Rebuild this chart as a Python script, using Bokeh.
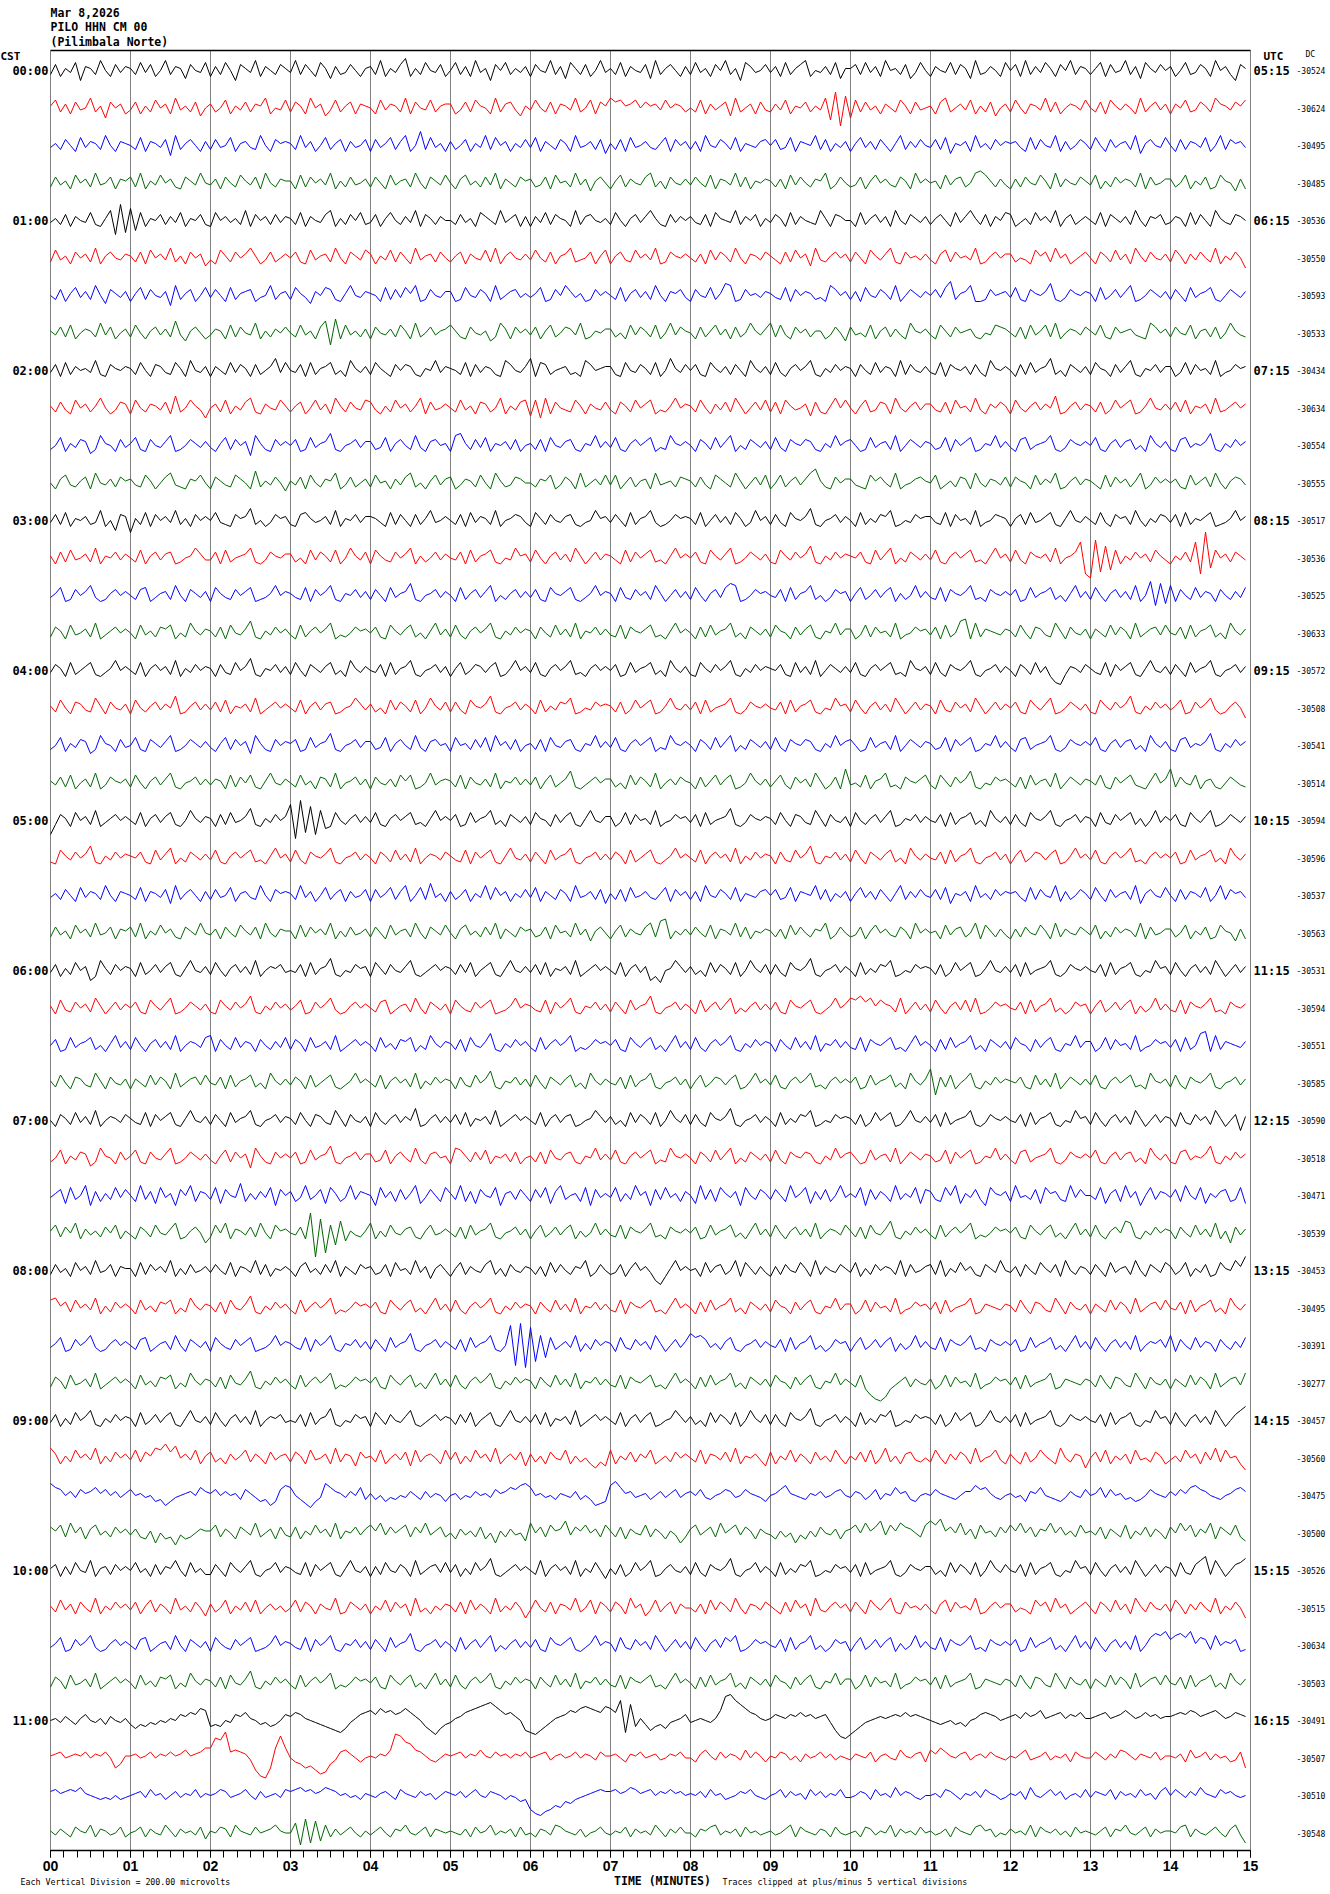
from bokeh.plotting import figure
from bokeh.models import Range1d, FixedTicker, Label, LinearAxis
from bokeh.embed import file_html
from bokeh.resources import INLINE

HEADER_LINES = ["Mar 8,2026", "PILO HHN CM 00", "(Pilimbala Norte)"]
CST_LABELS = ["00:00", "01:00", "02:00", "03:00", "04:00", "05:00",
              "06:00", "07:00", "08:00", "09:00", "10:00", "11:00"]
UTC_LABELS = ["05:15", "06:15", "07:15", "08:15", "09:15", "10:15",
              "11:15", "12:15", "13:15", "14:15", "15:15", "16:15"]
DC_OFFSETS = [-30524, -30624, -30495, -30485, -30536, -30550, -30593, -30533,
              -30434, -30634, -30554, -30555, -30517, -30536, -30525, -30633,
              -30572, -30508, -30541, -30514, -30594, -30596, -30537, -30563,
              -30531, -30594, -30551, -30585, -30590, -30518, -30471, -30539,
              -30453, -30495, -30391, -30277, -30457, -30560, -30475, -30500,
              -30526, -30515, -30634, -30503, -30491, -30507, -30510, -30548]
MINUTES = list(range(16))
MINUTE_LABELS = ["00", "01", "02", "03", "04", "05", "06", "07",
                 "08", "09", "10", "11", "12", "13", "14", "15"]
N_ROWS = 48
ROW_COLORS = ["#000000", "#ff0000", "#0000ff", "#006600"]
AXIS_TITLE = "TIME (MINUTES)"
FOOT_LEFT = "Each Vertical Division =  200.00 microvolts"
FOOT_RIGHT = "Traces clipped at plus/minus 5 vertical divisions"

# One string per trace, one space-separated group per minute.
# Each letter is a pen level: 'm' = trace centre line,
# every letter step = 2 px (up for later letters, down for earlier ones).
TRACES = [
    "kpjnlqhonkrmjplo nkqlpjmrkonipmlq jokqmhpnlrjomkpn lrkpmjqnioklpmjn okrjnlpsjnkqmlpj mqkojrlnhpmqknlo jpmlrkoiqnkpjmrl nkqjomlpirknpmjo kqlnjpmrknhqolmp lojqknprjmlokqin npkqlojrmnkpilqm jomlqkpnirklomjq mpjrkolqnjpmrkon knqjplmrkoiqnlpm ojmqklpnjrmokhpn",
    "nqkojplmrknhpmoj lpjnkqmojrlnkpim okmqjnlpkonrjmlq kpnjrmoilqknpjon mjqlonkrjpmlqkno ojlpkqnmjrkoplin lqmkpjonlrkmqjpn rpqnoqmpnolqmonk mkqjolnpirkmojpl kolqjnmpknlrguds hqkplnjomkqnjplm njprkmolqjnkpimo kqmjonlrkpjmonlq mkpjqnlomjrknplo jomqklpnkronlpnq",
    "lnkpmjqlonkrmjon mkqjonlphrknpmjo kplmqjnolkrmjpno nkrlojmqknpjolmp jplnqkorjmtkqlnj okmpjnlrkqmojnlp lqjomkpnjrlmokpi nkpjqlmolknqjpmo kojrmlpnkqjnmlop mpklqjonmrkpjnlo jnqlokpmjnrkolpm lpkqinmojrlnkpmo noljqkpmlrjokmpn kqmjplnokrinpmlq mjpkonlqjmrkpnol",
    "kplnjqmokrlmpjon pkrjnlqmokjpnlrm lojpmkqnlpjrmkon njqkpmolrjnkplmo kpmjqlnokrmjpnlq mjoqlnkplrjomkpn oklpjqmnkrloinpm jnqkomlprknjpmlo lpmkqjonlrkpjnmo nkojqlpmkonrjlpm klpjnqmolkpnjrmo mnjqlopkmrsqnkol jokpmlqnjrkomlpn lqjnkpmonkrjplmo okmqjnlpjkqnmioj",
    "lnkpjomlqkjnrfug shqjnmpkolqjnmpk jqmolnkrjpmokplo nkqjomlprjnkpmqk lpjnqmkolrjpnkom mkplnjqomkrlnpjo jolqkpnmjrkopmln kqmjnplornkjplom olkpjqnmlrkompjn lpnjqkomlkrnjpom mjqknplojrmkpnlo knpmjqlornkpjomq pjlnkqmolrjnpkmo mkqjpnlokrmjonpk lonjqkpmjrnlkpom",
    "kqlnjpmokrjnpmlo nkpjqmolrknjpmoi ljqnkpmornjlpkmo mpkjqlnokrmjpnlq ojnlqkpmjrlnokpm knpjomlqkrjnpmlo lqmkpjnorklmpjnq jnplkqmolrjkpnmo mkojqlpnkrmjonlp nljpkqmoirlknpmo kpmjqnlorkjpmnlo ljoqkpmnlrjknpmo okmljqnpkrmojlnp mjpnkqlojrnkpmlo kqnjolpmkrjnlpmh",
    "mkpjnqlokrmipnlo jnqkpmlohrknpjmq lpmjqknopjlmrkno kqnliomqpkjnrmlo nmjqkplqnrjkpmlo ojkqmlpnjrkmopln lnqjkpmrolnjkpmo mkqjnplokrmjonpl jpmlqknsrjkpmnlo nlkqjpmonkljrpmo kojqmlpnkrjmpnlo mplqtknorjjkpmno lqkjpnmoskjlpnmo njqkmplorjkmpnlo kpmjqlnoqkjmpnlo",
    "nlpkqjmonkrlpjmo kqmjnplokslinpmj lonjqkpmlrjnkomp mkqlnjpsgtjqlnko jpmlokqnjrkmplno qnkjpmlnikrojpmo lpjnqkmpolrjknmo okmjqlpnkqjmrlpn mjpknqlojpkmrnlo rkqljpmoknnjlpmi plmkqjnpkoljrnmo ljqnkpmnokjmlqpo mkpjqlnqkrjmonlp nlqkjpmnolkjrpmo kpmlqjnokpjmrnlk",
    "lpjqkomnlrkjpnmo nkqmjpolkqnjrmlo jomkqlpnjpkmoslq mlpjqknoqkmjrnlo kqnljpmpokjnmrlo nmkqjplonkjrpmlo sjqpkmnokljrpmno okjqmlpnkqjmsnlp mpkjqnlokpmjrnlo kqljnpmorkjnlpmo njpmkqlonjrkpmlo lkqjpnmokpljrnmo mjpkqlnoskmjpnlo kqnmjplorkjnmplo ojlqkpmnkrjlmpno",
    "nkpljqmoknrmjlpo jqmkonlpjskmqnlh mokqjnlprkjomlqn knpjmqlojrnkpmlq pljnkqmoknrjplmo mkqlnjpokmrjnlpq iqhrjpmlkqnjomlp ljpnkqmoqjlknrmo nkqmjolpkrnjmplq kpjqnlmoipkjnrmq mjnqklpojrmknplo olkpjqmnkrljompn jqmknplomsjknplo nkpjlqmoqjknrmlo lpkqjnmojrklnpmo",
    "kmqjnlpoikrnmjpl nqkjpmlorjkmpnlo ljnqkpmohrnkjpmo mpjkqlnoskjmnplo oklqjnpmkrljopmn jrsnkplqjnmokpjm nkpjqmlopkjnmrlo lqkjnpmoqjlkrnmo mjpnkqlorjmkpnlo kqljpnmpokjnlrmo pmjkqlnokrjmpnlo nklqjpmoqjknmrlo ljpqkmnorkjlpnmo mqkjnplopkmjrnlo kjpqlnmoskjnlpmo",
    "mjoqlknpjrmlokpn olkqnjmprlkjonqm jpnlkqomjsknlpmi nlpjqmkonrjlpkmo kqmnjolprkmjnqlo pjlonkqmjrnklpom mkonqjlpnjrkmolq lqjmpknojrlmnkpo nkpljqomkrnjmplq jmqknplortnkjpmo olkjqnpmkrjlmopn mqjlnkpojrmkonlp kpnmjqlomrjknplo nljqkpmoknrjlpmo mokjqlnpkrmjnpol",
    "lpkqjnmoklrjmhpo gnkqjpmolrknjpmo mqlkjpnoskmjlpno kjpqnlmokrjnmplo onljqkpmjpknrlmo mkpjqlonkrjmnpol jqnkpmlopkjlmrno lpmjqknorljkmpno nkqjmplokqnjlrmo kpljqnmoskjmnplo mjqknlporjkmlpno olkqjpmnkrjlmpon jnpkqlmoqkjnrmlo mkqljpnokrmjnlpo lpjqknmoqjklnrmo",
    "njpkqlmokrjnmplo mkqjnplopjkmnrol lpjqkmnorkjlpnmo okmjqlpnkqjmrnlp jqnlkpmorjnkmplo mlpjqknoqkjmlrno kqmjnplokrnjmplo nljqkpmoqkljnrmo mpkjqnlorjkmpnlo kjqnlpmoskjnlpmo nmpkjqlorjmkpnlo lqkjnpmoqkljnrmo kqljpnmokrjmnpue cvfsgqjnlpmokqnl jnlpkuezhqmokpnl",
    "lnqjkpmorljknpmo mkpqjlnokrmjpnlo jqnlkpmoqjklnrmo nlkqjpmorkjnmplo kpmjqlnoskjmnplo mjqknplorjmknplo lpkjqnmoqkjlnrmo njqlkpmokrnjmplo kqmjnplqsrjkmpno mlpjqknorkmjlpno jnqkmploqjnkmrlo lkqjpnmorkljpnmo mpjkqlnoqkmjnrlo kqmjnplokrjmthsi rjpmkqlonjpmkolq",
    "kpnjqlmokrjlnpmo mjqlnkpoqjmkrnlo nkpjqmloskjnlpmo ljqknpmorjlkmpno mpkjqnloqkmjnrlo kqljnpmorkjnlpmo njpmkqlokrjnmplo lkqjpnmoqkljnrmo mjpkqlnorkmjpnlo kqnmjploqkjnmrlo ojlqkpmnkrjlmpno lpjqkmstjrkonmlo nkqmjpolkrnjpmlo jomkqlpnjrkmoplq mlpjqknoqkmjrnlo",
    "lpnjqkmoqkjlnrmo mkqjnpmokrjnlpmo njplkqmoskjnmplo kqmjpnloqkmjrnlo mlpjqknorkjmnplo jnqkmpoloqjknrmo lqkjnpmorkljnpmo mpjkqlnoqkmjrnlo kjqnlpmorkjnlpmo nmpkjqlokrjmpnlo lqkjnpmoqkljrnmo kqljpnmorkjmnplo mjpnkqlojgfkonlp nlkqjpmoqkjnrmlo kpmjqlnorkjmnplo",
    "nkqmjpolkrnjpmlo jqmknplomsjknplo lpkqjnmokrjlnpmo mkqjnplopjkmnrol okmjqlpnkqjmrnlp kpljqnmoskjmnplo mjqknlporjkmlpno nkpjlqmoqjknrmlo lpjqkmnorkjlpnmo mlpjqknoqkjmlrno kqmjnplokrnjmplo njqlkpmokrnjmplo mpkjqnlorjkmpnlo kjqnlpmoskjnlpmo lnqjkpmorljknpmh",
    "kmqjnlpoikrnmjpl mqkjpnlorjkmpnlo ljnqkpmoirnkjpmo npjkqlnoskjmnplo oklqjnpmkrljopmn jqmnkplqjrmokpjm nkpjqmlopkjnmrlo lqkjnpmoqjlkrnmo mjpnkqlorjmkpnlo kqljpnmpokjnlrmo pmjkqlnokrjmpnlo nklqjpmoqjknmrlo ljpqkmnorkjlpnmo mqkjnplopkmjrnlo kjpqlnmoskjnlpmo",
    "nlpkqjmokrjlpnmo kqmjnplorkjmnplo lonjqkpmqkjnrmlo mkqlnjpokrjmnplo jpmlokqnqjkmrlno nkqjpmlokrjnmplo lpjnqkmoskjlnpmo okmjqlpnkrjmolpn mjpknqloqjkmrnlo knqljpmokrnjlpjt lmkqjnorkljpnmoq ljqnkpmoskjmlpno mkpjqlnokrjmpnlo nlqkjpmoqlkjnrmo tkpmlqjnokjmpnlk",
    "fkpnjqmokrjlnpmo mkqjnploqkjmrnlo njpkqlmoskjnlpmo udwgtfrijqmknplo lqkjnpmoqkljnrmo mpjkqlnorkmjpnlo kqnmjploqkjnrmlo ojlqkpmnkrjlmpno lpjqkmnoskjlpnmo nkqmjpolkrnjpmlo jqmknplorjknmplo mlpjqknoqkmjrnlo kpljqnmorkjmnplo njqlkpmoqknjmrlo mpkjqnlorjkmpnlo",
    "kjqnlpmoskjnlpmo nmpkjqlorjmkpnlo lqkjnpmoqkljnrmo kqljpnmorkjmnplo mjpnkqlokrjmonlp nlkqjpmoqkjnrmlo kpmjqlnorkjmnplo lpnjqkmoqkjlnrmo mkqjnpmokrjnlpmo njplkqmoskjnmplo kqmjpnloqkmjrnlo mlpjqknorkjmnplo jnqkmpoloqjknrmo lqkjnpmorkljnpmo mpjkqlnoqkmjrnlo",
    "lnkpmjqlonkrmjon mkqjonlpirknpmjo kplmqjnolkrmjpno nkrlojmqknpjolmp jplnqkorjmqkslnj okmpjnlrkqmojnlp lqjomkpnjrlmokpi nkpjqlmolknqjpmo kojrmlpnkqjnmlop mpklqjonmrkpjnlo jnqlokpmjnrkolpm lpkqinmojrlnkpmo noljqkpmlrjokmpn kqmjplnokrinpmlq mjpkonlqjmrkpnol",
    "kplnjqmokrlmpjon pkrjnlqmokjpnlrm lojpmkqnlpjrmkon njqkpmolrjnkplmo kpmjqlnokrmjpnlq mjoqlnkplrjomkpn oklpjqmnkrloinpm jnqkomlprkstjnlo lpmkqjonlrkpjnmo nkojqlpmkonrjlpm klpjnqmolkpnjrmo mnjqlopkmrjqnkol jokpmlqnjrkomlpn lqjnkpmonkrjplmo okmqjnlpjkqnmioj",
    "lpjnkqmohjrnkpmo njqkmploqkjnrmlo kqmjnplokrjmonpl mlpjqknoskjmlpno jqnkpmlorkjlnpmo nkplqjmoqkjnrmlo lpkqjnmokrjlnpmo mkqjnplohjgmnrol okmjqlpnkqjmrnlp kpljqnmoskjmnplo mjqknlporjkmlpno nkpjlqmoqjknrmlo lpjqkmnorkjlpnmo mlpjqknoqkjmlrno kqmjnplokrnjmplo",
    "njqlkpmokrnjmplo mpkjqnlorjkmpnlo kjqnlpmoskjnlpmo lnqjkpmorljknpmo mkpqjlnokrmjpnlo jqnlkpmoqjklnrmo nlkqjpmorkjnmplo kpmjqlnoskjmnplo mjqknplorjmknplo lpkjqnmoqkjlnrmo rqsprnqonkrjmplo kqmjnplqkrjkmpno mlpjqknorkmjlpno jnqkmploqjnkmrlo lkqjpnmorkljpnmo",
    "mpjkqlnoqkmjnrlo kqmjnplokrjmonlq rjpmkqlonjpmkolq kpnjqlmokrjlnpmo mjqlnkpoqjmkrnlo nkpjqmloskjnlpmo ljqknpmorjlkmpno mpkjqnloqkmjnrlo kqljnpmorkjnlpmo njpmkqlokrjnmplo lkqjpnmoqkljnrmo mjpkqlnorkmjpnlo kqnmjploqkjnmrlo ojlqkpmnkrjlmpno lpjqkmstjrkonmlo",
    "nkqmjpolkrnjpmlo jomkqlpnjrkmoplq mlpjqknoqkmjrnlo lpnjqkmoqkjlnrmo mkqjnpmokrjnlpmo njplkqmoskjnmplo kqmjpnloqkmjrnlo mlpjqknorkjmnplo jnqkmpoloqjknrmo lqkjnpmorkljnpmo mpjkqlnoqkmjrnlo tgpkqjmorkjnlpmo nmpkjqlokrjmpnlo lqkjnpmoqkljrnmo kqljpnmorkjmnplo",
    "mjpnkqlokrjmonlp nlkqjpmoqkjnrmlo kpmjqlnorkjmnplo nkqmjpolkrnjpmlo jqmknplomsjknplo lpkqjnmokrjlnpmo mkqjnplopjkmnrol okmjqlpnkqjmrnlp kpljqnmoskjmnplo mjqknlporjkmlpno nkpjlqmoqjknrmlo lpjqkmnorkjlpnmo mlpjqknoqkjmlrno kqmjnplokrnjmplo njqlkpmokrnjmpho",
    "kmqjnlpoikrnmjpl nqkjpmlorjkmpnlo ljnqkpmohrnkjpmo mpjkqlnoskjmnplo oklqjnpmkrljopmn jrqnkplqjnmokpjm nkpjqmlopkjnmrlo lqkjnpmoqjlkrnmo mjpnkqlorjmkpnlo kqljpnmpokjnlrmo pmjkqlnokrjmpnlo nklqjpmoqjknmrlo ljpqkmnorkjlpnmo mqkjnplopkmjrnlo kjpqlnmoskjnlpmo",
    "lnpiqkmrhojnkqlp mjrkoiqlnhpmrjon kqipmlsjnkolqhpm ojlrkmpiqnjlrkon mhqlojpknrilpmjq nkrjoipmlqhnokpm jplqiorkmnjqhpln lqjnkrmohpkqlnjo mirkpjqnlohqmkpn kpmjrlnqiokpjmrl nlqhpkomjrknlqip okjqmrinlpkhqnmo jrlmkpiqnokjrlpm mkqinpjrlohmqkon lpjrmkqinlopjkqi",
    "nqkpmrjolnkpmqjn ljpnkqmlorjknpmh kqmrjonlpkrmjqno mlpjwatcqgsinlkn rjnkqmlopkjnqlmo mkpjqlnorkjmnplo jnqkmploqjnkmrlo lkqjpnmorkljpnmo mpjkqlnoqkmjnrlo kqmjnplokrjmonlq nkpjqmloskjnlpmo ljqknpmorjlkmpno mpkjqnloqkmjnrlo kqljnpmsrkjnlpmo njpmkqlokrjnhplo",
    "kplnjqmokrlmpjon njqkpmolrjnkplmo lpmkqjonlrkpjnmo mjoqlnkplrjomkpn oklpjqmnkrloinpm jnqkomlprknjpmlo nkojqlpmkonrjlpm klpjnqmolhfjnrmo mnjqlopkmrjqnkol jokpmlqnjrkomlpn lqjnkpmonkrjplmo pkrjnlqmokjpnlrm lojpmkqnlpjrmkon kpmjqlnokrmjpnlq okmqjnlpjkqnmrot",
    "qrnpkqmolrjnkpmo mjqlnkpoqjmkrnlo nkpjqmloskjnlpmo ljqknpmorjlkmpno mpkjqnloqkmjnrlo kqljnpmorkjnlpmo njpmkqlokrjnmplo lkqjpnmoqkljnrmo mjpkqlnorkmjpnlo kqnmjploqkjnmrlo ojlqkpmnkrjlmpno lpjqkmnorjkonmlo nkqmjpolkrnjpmlo jomkqlpnjrkmoplq mlpjqknoqkmjrnlo",
    "lnqjkpmorljknpmo mkpqjlnokrmjpnlo jqnlkpmoqjklnrmo nlkqjpmorkjnmplo kpmjqlnoskjmnplo mkpjqlnorkjmwcxb vergqkmolrjnkpmo njqlkpmokrnjmplo sqrplnkoqkjmnplo mlpjqknorkmjlpno jnqkmploqjnkmrlo lkqjpnmorkljpnmo mpjkqlnoqkmjnrlo kqmjnplokrjmonpl rjpmkqlonjpmkolq",
    "kpnjqlmokrjlnpmo mjqlnkpoqjmkrnlo nkpjqmloskjnlpmo ljqknpmorjlkmpno mpkjqnloqkmjnrlo kqljnpmorkjnlpmo njpmkqlokrjnmplo lkqjpnmoqkljnrmo mjpkqlnorkmjpnlo kqnmjploqkjnmrlo mkqjgedfjlnpkoml ojlqkpmnkrjlmpno lpjqkmnorjkonmlo nkqmjpolkrnjpmlo jomkqlpnjrkmoplr",
    "lpjnkqmorkjnlpmo njqkmploqkjnrmlo kqmjnplokrjmonpl mlpjqknoskjmlpno jqnkpmlorkjlnpmo nkplqjmoqkjnrmlo lpkqjnmokrjlnpmo mkqjnploqjkmnrol okmjqlpnkqjmrnlp kpljqnmoskjmnplo mjqknlporjkmlpno nkpjlqmoqjknrmlo lpjqkmnorkjlpnmo mlpjqknoqkjmlrno kqmjnplokrnjmprt",
    "rojnkqmolrjnkpmo lqkpnrqtpsmolqjn pkmjolnqkomjplno kpnjqlmojrkonipm nkqjmolpiqknomjq lpjnkqmokrjmolpi oknjpmlqjnkmjhki qjnlpkomqjlnkpmo mkqjonlpkrjnmoli pjnlqkomjplnkqmj nlpkqjmrknjoplkm kqmjolpnjrkmnqlj oljpkmqnljrmkonh mpkqjnlojqlmkpnj lnkqmojplrkqmnjg",
    "sqpmolpnoqnpmoln pmnlmjkhjlmnomqo npmomnkpnljkhjpr qmkigjlsqonlomqk nkmjlkmlomkolnmj mnkmlomnlpnoqprs qmnlmknmlokmkhij rtqnolmnkmolnpln omplkmnpolmpnmlj mnprnmlknmolmopm lonkmpknmqnokjmn mpnmlkmoorpqnlkm nlmjonqmlkjlomlp mnqlpmnkljkmpnml ompnqrpomlkmnpqo",
    "pnqkrmpjoqlnkpmo lokjnhmjkgljkmon nqkomjpnlrkmojpl kpjnlqmokrjnmplo qnrlpmoqkpmrlnpk mjolnkpjmhnkolmi rmpkqnoslpnqmokq nkpjomlqkomjnlhk oqlnpkrmoqlpnjom ljnkmhljnkpmlojn oqmrnpslqnrpomkq sqtnpmrlojqmnkpm qnrmpkonrmplnkqm nlpjomkqjnlpkomj pmrnqkomrjpnlqki",
    "npjokqmlrjnokpmo mqlnjpkonrmjqlnk kpmjqnlorkjmnqlo nlkqjpmoqkjnrmlo jokqmlpnjrkmoplq lpjnkqmoskjlnpmo mkrjnpmokrjnlqmi nkpjlqmorjknpmlo kqljpnmoskjmnqlo mjqknlporjkmlpno lpjqkmnorkjlpnmo okmjqlpnkqjmrnlp mlpjqknoqkjmlrno kqmjnplokrnjmplo njqlkprtkrnjmpqs",
    "nkqlojpmkrjnlpmo lpjnqkomjrlnkpmi okmqjnlpkqjmolnk mqkpnjomlrjkpnlo jnlqkpmoirkmjnlo nkpjqlomjrknlpmh lqmkpjonlrkmqjpn kpnjrmoilqknpjom mkojqlpnkrmjonlp nljpkqmoirlknpmo kpmjqnlorkjpmnlo ljoqkpmnlrjknpmo okmljqnpkrmojlnp mjpnkqlojrnkpmlo kqnjolpmkrjnlpmh",
    "lnqjkpmorljknpmo mkpqjlnokrmjpnlo jqnlkpmoqjklnrmo nlkqjpmorkjnmplo kpmjqlnoskjmnplo mjqknplorjmknplo lpkjqnmoqkjlnrmo njqlkpmokrnjmplo kqmjnplqorjkmpno mlpjqknorkmjlpno jnqkmploqjnkmrlo lkqjpnmorkljpnmo mpjkqlnoqkmjnrlo kqmjnplokrjmqsrt prsqtnqpkrmonpjk",
    "kpnjqlmokrjlnpmo mjqlnkpoqjmkrnlo nkpjqmloskjnlpmo ljqknpmorjlkmpno mpkjqnloqkmjnrlo kqljnpmorkjnlpmo njpmkqlokrjnmplo lkqjpnmoqkljnrmo mjpkqlnorkmjpnlo kqnmjploqkjnmrlo ojlqkpmnkrjlmpno lpjqkmnorjkonmlo nkqmjpolkrnjpmlo jomkqlpnjrkmoplq mlpjqknoqkmjrnlo",
    "mnlomknpmlnkomln kikjlkmlnmpoqpsr jkjmlpoqnmkljkmp oqpnmlkjihgilnpq rpsqrpqsqomjhfik lnoqrstuvtrpqomh gfhjlnoprqstsrqt sqwgujnkhjkilmnp lmnmlnryzwusqpnm nponpoqopnoplhed fhjlmnonopoqopon mlklmkljmnpqpomn opnqoprnopqnpoqn nopqnoprpnoqopno opqprqopqrpnoqpo",
    "nopmnonpmonpmhjn nomnpmonpnoqnopr rwvzpqpolgdchrxr mkjhigefjlpqomkm nmonqyxutqpnlkmo nopmonqnmpnomonp mnoplnomnpmonlpn nomkonpmnolmonpm mkoqnlpmonlqmpnk nmpolnkomnpmolnm lonmpknomlqnmopk qorpnmoplnompnml nmoqlmnplnmokpnm mpnlomqpnlonmpln nmokqmnplomnklph",
    "opnopoqnmlklkmkl mnolpmnkmolnmpln mnpolmnpmkolmnlp opqopnoqpomnlmkn mlnomkpnmlomnkmo nmolnpmlonmkmljk fdcefhgjiklmnopo opnoqpnopmonpnom nmolpmnklmonpmlk mnplomnkpmolnmpl lmonkpmnlqmonlkm mnlpomknmolpnmkl nmokqmlnpmokmnlp lonmpkomnlpmnkoq mpnlomqnmlpnomlm",
    "nlomkpnmqkonlmpk mnpkomlqnkomnlpj nmpokqnmlpmnoqnm mrgthsiqkolnpmkn lnpmkonqmlnpkonm nmlokpmnqlnmokpl mkonlqpnmlokmnpm lnmpkomnlqnkompm mkonpqlnmokpmnlm nlmoqkpnmlonkpml mnkpolnmqkomnlpm nlmokpnmlpqnokml omnlqkpnmolnkpmn mlnpkonqmlnpkomn nmpqkomlnpmkoqlh",
]

# Page geometry (the whole canvas is the plot frame)
W, H = 1330, 1890
LEFT_PX, TOP_PX = 50.0, 50.0      # grid origin on the page
MIN_PX = 80.0                      # pixels per minute
ROW_PX = 37.5                      # pixels per trace row
BOTTOM_PX = TOP_PX + N_ROWS * ROW_PX
LEVEL = 2.0 / ROW_PX
TOP_GAP = 20.0 / ROW_PX


def decode(s):
    xs, ys = [], []
    for m, grp in enumerate(s.split()):
        n = len(grp)
        for j, c in enumerate(grp):
            xs.append(m + j / n)
            ys.append((ord(c) - ord("m")) * LEVEL)
    return xs, ys


def sx(px):
    return (px - LEFT_PX) / MIN_PX


def sy(py):
    return (BOTTOM_PX - py) / ROW_PX


p = figure(width=W, height=H,
           x_range=Range1d(sx(0), sx(W)), y_range=Range1d(sy(H), sy(0)),
           output_backend="svg", toolbar_location=None, title=None,
           x_axis_location=None, y_axis_location=None,
           min_border=0, min_border_left=0, min_border_right=0,
           min_border_top=0, min_border_bottom=0,
           background_fill_color="white", border_fill_color="white")
p.outline_line_color = None
p.grid.visible = False

# minute lines and top border of the record
p.segment(x0=MINUTES, y0=[0] * len(MINUTES), x1=MINUTES, y1=[N_ROWS] * len(MINUTES),
          line_color="#808080", line_width=1)
p.segment(x0=[MINUTES[0]], y0=[N_ROWS], x1=[MINUTES[-1]], y1=[N_ROWS],
          line_color="#000000", line_width=1.5)

for i, s in enumerate(TRACES):
    xs, ys = decode(s)
    base = N_ROWS - TOP_GAP - i
    p.line(xs, [base + v for v in ys], line_color=ROW_COLORS[i % 4], line_width=1)

xa = LinearAxis(fixed_location=0, bounds=(MINUTES[0], MINUTES[-1]))
xa.ticker = FixedTicker(ticks=MINUTES, minor_ticks=[k / 6 for k in range(91)])
xa.major_label_overrides = {m: lab for m, lab in zip(MINUTES, MINUTE_LABELS)}
xa.axis_line_color = "#000000"
xa.axis_line_width = 1.5
xa.major_tick_in = 0
xa.major_tick_out = 7
xa.minor_tick_in = 0
xa.minor_tick_out = 7
xa.major_tick_line_color = "#000000"
xa.minor_tick_line_color = "#000000"
xa.major_label_text_font = "Liberation Sans"
xa.major_label_text_font_style = "bold"
xa.major_label_text_font_size = "14px"
xa.major_label_text_color = "#000000"
xa.major_label_standoff = 3
p.add_layout(xa, "below")


def add_text(x, y, text, size, bold=False, align="left", font="DejaVu Sans Mono"):
    p.add_layout(Label(x=x, y=y, text=text, text_font=font, text_font_size=size,
                       text_font_style="bold" if bold else "normal",
                       text_align=align, text_baseline="middle", text_color="#000000"))


for line, py in zip(HEADER_LINES, [12.5, 26.5, 41.5]):
    add_text(sx(50), sy(py), line, "11.5px", bold=True)

add_text(sx(0), sy(56), "CST", "11px", bold=True)
add_text(sx(1263), sy(56), "UTC", "11px", bold=True)
add_text(sx(1305), sy(54), "DC", "8px")

for h in range(12):
    base = N_ROWS - TOP_GAP - 4 * h
    add_text(sx(48), base, CST_LABELS[h], "12px", bold=True, align="right")
    add_text(sx(1253), base, UTC_LABELS[h], "12px", bold=True)

for i, dc in enumerate(DC_OFFSETS):
    base = N_ROWS - TOP_GAP - i
    add_text(sx(1296), base, str(dc), "8px")

add_text(sx(20), sy(1881), FOOT_LEFT, "8.3px")
add_text(sx(662), sy(1880), AXIS_TITLE, "11.5px", bold=True, align="center")
add_text(sx(722), sy(1881), FOOT_RIGHT, "8.3px")

open("out.html", "w").write(file_html(p, INLINE))
